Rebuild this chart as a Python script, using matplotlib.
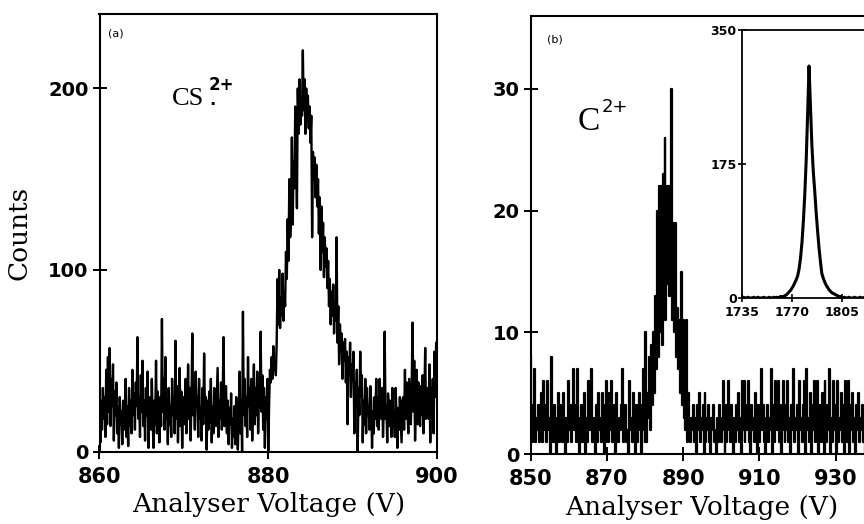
import numpy as np
import matplotlib
matplotlib.use("Agg")
import matplotlib.pyplot as plt

# ---------------- data ----------------
# Panel (a): CS2+ peak, 0.1 V steps from 860 V (one row per volt)
start_a, step_a = 860.0, 0.1
counts_a = [
    20, 5, 28, 12, 35, 18, 30, 8, 45, 15,        # 860
    52, 22, 57, 14, 40, 25, 48, 6, 33, 20,       # 861
    38, 10, 25, 2, 30, 15, 22, 4, 28, 12,        # 862
    18, 40, 8, 25, 3, 35, 14, 28, 10, 45,        # 863
    20, 32, 12, 38, 25, 63, 18, 30, 8, 42,       # 864
    22, 50, 14, 28, 6, 35, 20, 44, 2, 25,        # 865
    30, 12, 40, 18, 2, 28, 15, 50, 10, 33,       # 866
    20, 5, 30, 14, 73, 22, 40, 12, 52, 18,       # 867
    28, 4, 35, 15, 25, 8, 40, 20, 30, 10,        # 868
    61, 18, 36, 5, 28, 46, 14, 33, 2, 25,        # 869
    30, 15, 40, 10, 22, 48, 18, 35, 6, 28,       # 870
    65, 20, 38, 12, 44, 25, 30, 8, 40, 18,       # 871
    24, 6, 35, 15, 54, 20, 30, 1, 28, 12,        # 872
    33, 16, 40, 5, 25, 10, 35, 22, 14, 30,       # 873
    46, 8, 28, 18, 38, 12, 30, 63, 14, 25,       # 874
    36, 10, 28, 4, 24, 15, 32, 2, 18, 8,         # 875
    25, 4, 30, 12, 1, 20, 44, 10, 28, 0,         # 876
    77, 20, 40, 14, 30, 8, 52, 25, 35, 12,       # 877
    40, 6, 28, 48, 15, 35, 20, 44, 10, 30,       # 878
    25, 66, 22, 42, 12, 35, 2, 30, 18, 40,       # 879
    0, 25, 45, 38, 52, 40, 58, 45, 50, 42,       # 880
    60, 95, 70, 100, 68, 85, 75, 98, 72, 88,     # 881
    80, 110, 95, 128, 105, 150, 118, 130, 173, 125,   # 882
    160, 145, 190, 165, 134, 200, 175, 205, 180, 195, # 883
    185, 221, 188, 205, 175, 200, 182, 196, 178, 190, # 884
    170, 185, 118, 165, 150, 162, 140, 158, 135, 150, # 885
    120, 140, 100, 135, 110, 126, 96, 118, 102, 112,  # 886
    90, 105, 80, 95, 70, 88, 75, 92, 65, 82,     # 887
    72, 118, 60, 80, 48, 70, 55, 65, 40, 60,     # 888
    50, 62, 38, 55, 15, 52, 42, 60, 30, 48,      # 889
    40, 55, 10, 38, 25, 45, 0, 35, 20, 55,       # 890
    30, 42, 5, 28, 15, 40, 10, 35, 20, 25,       # 891
    12, 36, 28, 2, 22, 10, 30, 18, 40, 14,       # 892
    30, 12, 40, 22, 18, 35, 8, 25, 66, 18,       # 893
    25, 5, 32, 14, 28, 20, 8, 35, 15, 22,        # 894
    8, 35, 20, 2, 24, 12, 30, 18, 5, 28,         # 895
    30, 12, 45, 18, 38, 22, 10, 40, 28, 15,      # 896
    35, 71, 22, 50, 6, 28, 45, 15, 38, 20,       # 897
    14, 36, 20, 42, 10, 28, 57, 18, 35, 25,      # 898
    18, 48, 5, 35, 22, 40, 10, 55, 30, 60,       # 899
    60]                                          # 900

# Panel (b): C2+ peak, 0.25 V steps from 850 V (ten volts per row)
start_b, step_b = 850.0, 0.25
counts_b = [
    8, 2, 1, 4, 7, 1, 3, 2, 4, 1, 2, 5, 1, 6, 3, 2, 4, 1, 6, 2,
    3, 0, 8, 2, 1, 4, 2, 0, 3, 5, 1, 2, 4, 1, 5, 3, 2, 0, 3, 1,        # 850-859
    6, 2, 4, 1, 3, 7, 2, 4, 1, 7, 3, 0, 2, 4, 1, 3, 5, 2, 0, 3,
    1, 6, 2, 4, 7, 1, 3, 2, 0, 4, 1, 5, 2, 3, 1, 5, 2, 0, 4, 1,        # 860-869
    6, 3, 1, 5, 2, 6, 1, 3, 4, 0, 5, 2, 1, 3, 2, 4, 7, 1, 3, 2,
    4, 1, 2, 0, 6, 2, 3, 1, 5, 2, 0, 4, 1, 3, 5, 2, 0, 4, 7, 2,        # 870-879
    1, 10, 1, 5, 3, 8, 2, 9, 4, 10, 5, 13, 7, 20, 8, 22, 10, 22, 9, 23,
    12, 26, 11, 22, 14, 22, 13, 22, 30, 11, 19, 10, 19, 8, 12, 7, 11, 5, 15, 4,   # 880-889
    11, 3, 10, 2, 11, 1, 5, 2, 1, 3, 2, 4, 1, 3, 0, 4, 2, 5, 1, 3,
    2, 4, 0, 5, 1, 3, 2, 4, 1, 0, 3, 2, 4, 1, 2, 0, 3, 1, 4, 2,        # 890-899
    1, 3, 6, 2, 0, 4, 1, 2, 6, 3, 1, 4, 2, 0, 3, 1, 4, 2, 5, 1,
    3, 0, 6, 2, 6, 1, 4, 2, 3, 6, 1, 0, 4, 2, 3, 1, 5, 2, 0, 4,        # 900-909
    1, 3, 7, 2, 4, 1, 3, 0, 2, 4, 1, 3, 2, 7, 0, 4, 1, 6, 3, 2,
    6, 1, 4, 0, 3, 6, 2, 1, 4, 2, 6, 1, 3, 0, 4, 2, 7, 1, 3, 2,        # 910-919
    4, 0, 6, 2, 3, 1, 4, 6, 1, 0, 7, 2, 3, 1, 5, 0, 4, 2, 6, 1,
    3, 6, 0, 2, 4, 1, 5, 2, 0, 6, 3, 1, 4, 2, 7, 0, 3, 1, 6, 2,        # 920-929
    4, 0, 6, 1, 3, 2, 5, 1, 4, 0, 6, 2, 3, 1, 6, 0, 4, 2, 5, 1,
    3, 0, 4, 2, 5, 1, 3, 2, 4, 1, 3, 0, 2, 4, 1, 3, 2, 0, 3, 1,        # 930-939
    2]                                                                 # 940

# Inset: main peak, 1 V steps from 1735 V
start_i, step_i = 1735.0, 1.0
counts_i = [0, 1, 0, 0, 1, 0, 0, 0, 1, 0, 0, 1, 0, 0, 0, 1, 0, 0, 0, 1,
            0, 0, 1, 0, 1, 0, 1, 2,
            1, 2, 3, 4, 6, 8, 10, 13, 16, 20, 24, 29, 38, 52, 72, 100,
            135, 180, 240, 303, 250, 200, 165, 140, 112, 88, 66, 48, 32,
            26, 21, 17, 14, 11, 9, 7, 6, 5, 4, 3, 2, 2, 1,
            0, 1, 0, 0, 1, 0, 0, 0, 1, 0, 0, 0, 1, 0, 0, 1, 0, 0, 0, 1,
            0, 0, 1, 0, 0]

xticks_a = [860, 880, 900]
yticks_a = [0, 100, 200]
xticks_b = [850, 870, 890, 910, 930]
yticks_b = [0, 10, 20, 30]
xticks_i = [1735, 1770, 1805]
yticks_i = [0, 175, 350]

volt_a = start_a + step_a * np.arange(len(counts_a))
volt_b = start_b + step_b * np.arange(len(counts_b))
volt_i = start_i + step_i * np.arange(len(counts_i))

# ---------------- figure ----------------
W, H = 864, 524
fig = plt.figure(figsize=(W / 100, H / 100), dpi=100)


def rect(x0, y0, x1, y1):
    """pixel box (left, top, right, bottom) -> figure fraction rect"""
    return [x0 / W, 1 - y1 / H, (x1 - x0) / W, (y1 - y0) / H]


def fpos(x, y):
    return x / W, 1 - y / H


serif = "DejaVu Serif"
tickfont = "DejaVu Sans"
label_kw = dict(fontfamily=serif, fontsize=19)


def style(ax, lw=1.5):
    for s in ax.spines.values():
        s.set_linewidth(lw)
    ax.tick_params(direction="inout", length=10, width=1.4, color="black")
    ax.tick_params(axis="y", labelsize=14, pad=3)
    ax.tick_params(axis="x", labelsize=15, pad=6)
    for lab in ax.get_xticklabels() + ax.get_yticklabels():
        lab.set_fontfamily(tickfont)
        lab.set_fontweight("bold")


# Panel (a)
ax1 = fig.add_axes(rect(99.5, 14, 437, 451.5))
ax1.plot(volt_a, counts_a, color="black", lw=1.7)
ax1.set_xlim(860, 900)
ax1.set_ylim(0, 241)
ax1.set_xticks(xticks_a)
ax1.set_yticks(yticks_a)
style(ax1)
ax1.set_xlabel("Analyser Voltage (V)", labelpad=4, **label_kw)
ax1.set_ylabel("Counts", labelpad=12, **label_kw)

# Panel (b)
ax2 = fig.add_axes(rect(530.7, 16, 530.7 + 90 * 3.81, 454))
ax2.step(volt_b, counts_b, where="mid", color="black", lw=1.6)
ax2.set_xlim(850, 940)
ax2.set_ylim(0, 36)
ax2.set_xticks(xticks_b)
ax2.set_yticks(yticks_b)
style(ax2)
ax2.set_xlabel("Analyser Voltage (V)", labelpad=4, **label_kw)

# Inset
ax3 = fig.add_axes(rect(742.3, 30, 742.3 + 105 * 1.42, 298))
ax3.plot(volt_i, counts_i, color="black", lw=2.2)
ax3.set_xlim(1735, 1840)
ax3.set_ylim(0, 350)
ax3.set_xticks(xticks_i)
ax3.set_yticks(yticks_i)
for s in ax3.spines.values():
    s.set_linewidth(1.3)
ax3.tick_params(direction="inout", length=6, width=1.2, labelsize=9)
ax3.tick_params(axis="x", pad=3)
ax3.tick_params(axis="y", pad=1)
for lab in ax3.get_xticklabels() + ax3.get_yticklabels():
    lab.set_fontweight("bold")
    lab.set_fontfamily(tickfont)

# panel tags and ion labels
fig.text(*fpos(108, 37), "(a)", fontsize=8, fontfamily=tickfont, va="baseline")
fig.text(*fpos(547, 42), "(b)", fontsize=8, fontfamily=tickfont, va="baseline")

fig.text(*fpos(172, 105), "CS", fontsize=19, fontfamily="Liberation Serif",
         va="baseline")
fig.text(*fpos(209, 105), "2+\n.", fontsize=12, fontfamily=tickfont,
         fontweight="bold", va="baseline", linespacing=0.8)

fig.text(*fpos(578, 130), "C", fontsize=24, fontfamily="Liberation Serif",
         va="baseline")
fig.text(*fpos(602, 112), "2+", fontsize=13, fontfamily=tickfont, va="baseline")

fig.savefig("out.png", dpi=100)
